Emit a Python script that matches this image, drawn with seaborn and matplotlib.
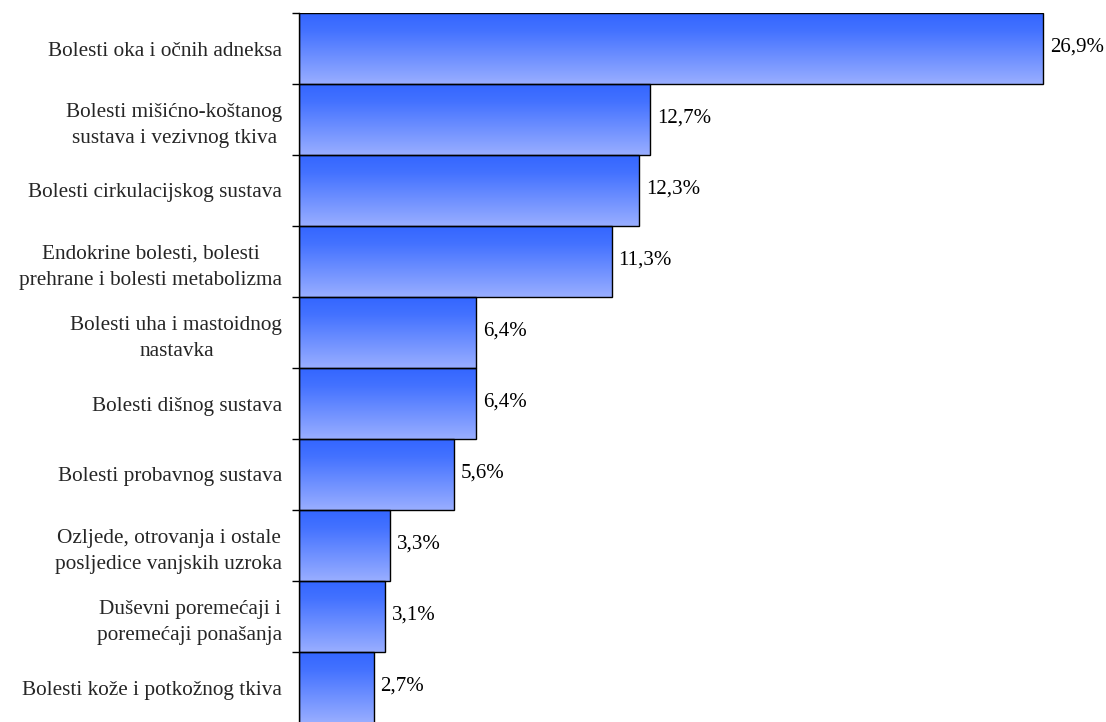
import numpy as np
import pandas as pd
import matplotlib
matplotlib.use("Agg")
import matplotlib.pyplot as plt
import seaborn as sns
from matplotlib.colors import LinearSegmentedColormap

categories = [
    "Bolesti oka i očnih adneksa",
    "Bolesti mišićno-koštanog\nsustava i vezivnog tkiva",
    "Bolesti cirkulacijskog sustava",
    "Endokrine bolesti, bolesti\nprehrane i bolesti metabolizma",
    "Bolesti uha i mastoidnog\nnastavka",
    "Bolesti dišnog sustava",
    "Bolesti probavnog sustava",
    "Ozljede, otrovanja i ostale\nposljedice vanjskih uzroka",
    "Duševni poremećaji i\nporemećaji ponašanja",
    "Bolesti kože i potkožnog tkiva",
]
values = [26.9, 12.7, 12.3, 11.3, 6.4, 6.4, 5.6, 3.3, 3.1, 2.7]
value_labels = ["26,9%", "12,7%", "12,3%", "11,3%", "6,4%", "6,4%", "5,6%", "3,3%", "3,1%", "2,7%"]

sns.set_style("white")
plt.rcParams['font.family'] = ['Liberation Serif', 'DejaVu Serif']

df = pd.DataFrame({"cat": categories, "val": values})

fig = plt.figure(figsize=(11.06, 7.22), dpi=100)
W, H = 1106, 722
x0, ytop, ybot = 299, 13, 723
xmax = 29.0
pxu = (1043 - 299) / 26.9
ax = fig.add_axes([x0 / W, (H - ybot) / H, xmax * pxu / W, (ybot - ytop) / H])

sns.barplot(data=df, x="val", y="cat", orient="h", width=1.0,
            facecolor="none", edgecolor="black", linewidth=1.0, ax=ax, zorder=3)

cmap = LinearSegmentedColormap.from_list("g", [(0, "#3366ff"), (0.25, "#4472ff"), (1, "#99aeff")])
grad = np.linspace(0, 1, 256).reshape(-1, 1)
for p in ax.patches:
    x, y = p.get_x(), p.get_y()
    w, h = p.get_width(), p.get_height()
    ax.imshow(grad, cmap=cmap, aspect="auto", extent=[x, x + w, y + h, y],
              origin="upper", zorder=2, interpolation="bilinear")

ax.set_xlim(0, xmax)
ax.set_ylim(len(categories) - 0.5, -0.5)

for i, (v, lab) in enumerate(zip(values, value_labels)):
    ax.annotate(lab, (v, i), xytext=(5, 1), textcoords="offset points",
                ha="left", va="center", fontsize=15, color="black")

# category boundaries as major ticks, labels at centers (minor ticks)
ax.set_yticks(np.arange(-0.5, len(categories), 1.0))
ax.set_yticklabels([])
ax.set_yticks(np.arange(len(categories)), minor=True)
ax.set_yticklabels(categories, minor=True, fontsize=15.3, linespacing=1.5)
ax.tick_params(axis="y", which="major", direction="out", length=5, width=1, color="black", left=True)
ax.tick_params(axis="y", which="minor", length=0, pad=12)
for t in ax.get_yticklabels(minor=True):
    t.set_horizontalalignment("right")
    t.set_multialignment("center")

ax.set_xticks([])
ax.set_xlabel("")
ax.set_ylabel("")
for s in ["top", "right", "bottom"]:
    ax.spines[s].set_visible(False)
ax.spines["left"].set_color("black")
ax.spines["left"].set_linewidth(1.0)

fig.savefig("out.png", dpi=100)
